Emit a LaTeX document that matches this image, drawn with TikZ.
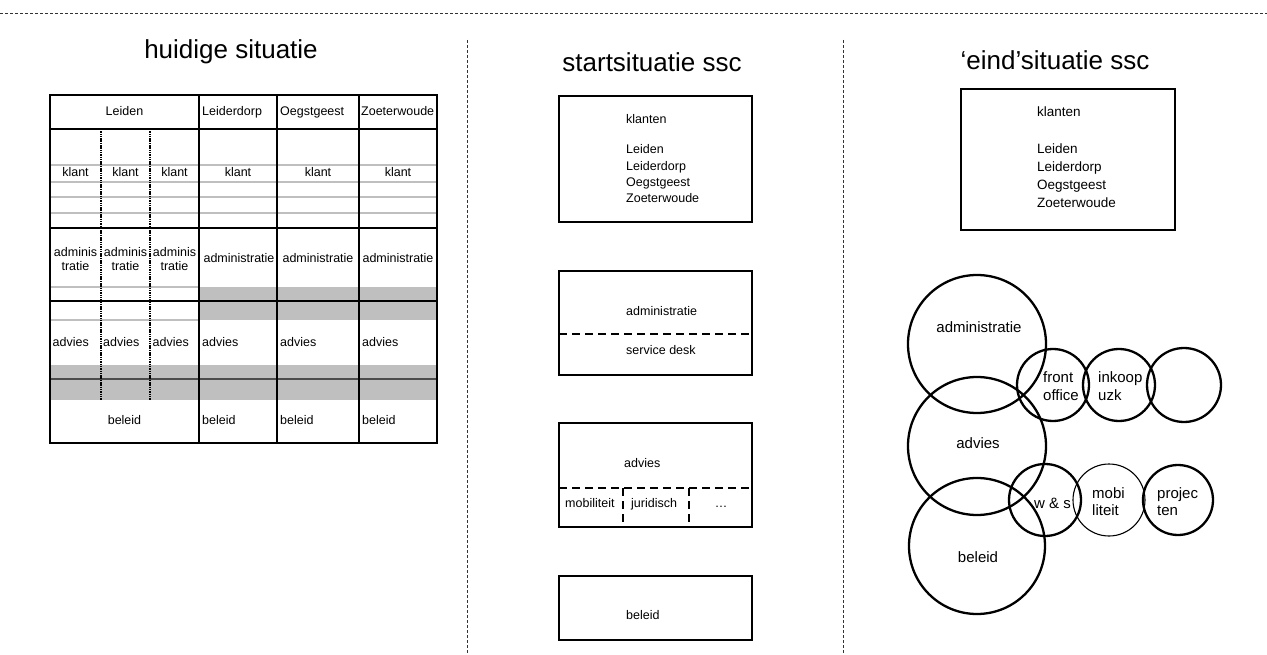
\documentclass[tikz,border=0pt]{standalone}
\usepackage{fontspec}
\setmainfont{Liberation Sans}
\begin{document}
\begin{tikzpicture}[x=1pt,y=-1pt,
  sep/.style={draw=black!80, line width=0.8pt, dash pattern=on 3pt off 2pt},
  boxline/.style={draw, line width=2.5pt},
  bdash/.style={line width=2.5pt, dash pattern=on 8pt off 5pt},
  gridline/.style={draw=black!25, line width=1.5pt},
  thinline/.style={draw=black, line width=1.2pt},
  thickline/.style={draw=black, line width=2.2pt},
  subcol/.style={draw=black, line width=1.2pt, dash pattern=on 1.5pt off 0.8pt},
  ttab/.style={inner sep=0pt, text height=9pt, text depth=0pt, font=\fontsize{12.5}{14}\selectfont},
  tmid/.style={inner sep=0pt, text height=9pt, text depth=0pt, font=\fontsize{12.5}{14}\selectfont, anchor=west},
  tright/.style={inner sep=0pt, text height=9.7pt, text depth=0pt, font=\fontsize{13.5}{16}\selectfont, anchor=west},
  tcirc/.style={inner sep=0pt, text height=10.8pt, text depth=0pt, font=\fontsize{15}{18}\selectfont},
  ttitle/.style={inner sep=0pt, text height=18.5pt, text depth=0pt, font=\fontsize{26}{30}\selectfont},
  circ/.style={circle, draw, line width=2.3pt, inner sep=0pt},
]
\useasboundingbox (0,0) rectangle (1267,655);

% separators
\draw[sep] (0,13) -- (1267,13);
\draw[sep] (467,40) -- (467,655);
\draw[sep] (843,40) -- (843,655);

% titles
\node[ttitle] (t1) at (231,49) {huidige situatie};
\node[ttitle] (t2) at (652,62) {startsituatie ssc};
\node[ttitle] (t3) at (1055,60) {‘eind’situatie ssc};

% ---------- table ----------
\fill[black!25] (199,287) rectangle (437,320);
\fill[black!25] (50,365) rectangle (437,400);
\foreach \yy in {165,182,197,213} \draw[gridline] (50,\yy) -- (437,\yy);
\draw[gridline] (50,287) -- (199,287);
\draw[gridline] (50,320) -- (199,320);
\draw[thinline] (50,129) -- (437,129);
\draw[thinline] (50,228) -- (437,228);
\draw[thinline] (50,301) -- (437,301);
\draw[thinline, draw=black!70] (50,379) -- (437,379);
\draw[subcol] (101,129) -- (101,400);
\draw[subcol] (150,129) -- (150,400);
\foreach \xx in {199,277,359} \draw[thickline] (\xx,95) -- (\xx,443);
\draw[thickline] (50,95) rectangle (437,443);

% header
\node[ttab] (hLeiden) at (124.5,111) {Leiden};
\node[ttab, anchor=west] (hLd) at (202,111) {Leiderdorp};
\node[ttab, anchor=west] (hOg) at (280,111) {Oegstgeest};
\node[ttab, anchor=west] (hZw) at (361,111) {Zoeterwoude};
% klant
\node[ttab] (k1) at (75.5,172) {klant};
\node[ttab] (k2) at (125.5,172) {klant};
\node[ttab] (k3) at (174.5,172) {klant};
\node[ttab] (k4) at (238,172) {klant};
\node[ttab] (k5) at (318,172) {klant};
\node[ttab] (k6) at (398,172) {klant};
% administratie
\node[ttab] (a1a) at (75.5,252) {adminis};
\node[ttab] (a1b) at (75.5,266) {tratie};
\node[ttab] (a2a) at (125.5,252) {adminis};
\node[ttab] (a2b) at (125.5,266) {tratie};
\node[ttab] (a3a) at (174.5,252) {adminis};
\node[ttab] (a3b) at (174.5,266) {tratie};
\node[ttab] (a4) at (239,258) {administratie};
\node[ttab] (a5) at (318,258) {administratie};
\node[ttab] (a6) at (398,258) {administratie};
% advies
\node[ttab, anchor=west] (v1) at (52.5,342) {advies};
\node[ttab, anchor=west] (v2) at (103,342) {advies};
\node[ttab, anchor=west] (v3) at (152.5,342) {advies};
\node[ttab, anchor=west] (v4) at (202,342) {advies};
\node[ttab, anchor=west] (v5) at (280,342) {advies};
\node[ttab, anchor=west] (v6) at (362,342) {advies};
% beleid
\node[ttab] (b1) at (124.5,420) {beleid};
\node[ttab, anchor=west] (b4) at (202,420) {beleid};
\node[ttab, anchor=west] (b5) at (280,420) {beleid};
\node[ttab, anchor=west] (b6) at (362,420) {beleid};

% ---------- middle column ----------
\draw[boxline] (559,96) rectangle (752,222);
\node[tmid] (m1a) at (626,119) {klanten};
\node[tmid] (m1b) at (626,149) {Leiden};
\node[tmid] (m1c) at (626,166) {Leiderdorp};
\node[tmid] (m1d) at (626,182) {Oegstgeest};
\node[tmid] (m1e) at (626,198) {Zoeterwoude};

\draw[boxline] (559,271) rectangle (752,375);
\draw[bdash] (559,334) -- (752,334);
\node[tmid] (m2a) at (626,311) {administratie};
\node[tmid] (m2b) at (626,350) {service desk};

\draw[boxline] (559,423) rectangle (752,527);
\draw[bdash] (559,488) -- (752,488);
\draw[bdash] (623,488) -- (623,527);
\draw[bdash] (689,488) -- (689,527);
\node[tmid] (m3a) at (624,463) {advies};
\node[tmid] (m3b) at (565,503) {mobiliteit};
\node[tmid] (m3c) at (631,503) {juridisch};
\node[ttab] (m3d) at (721,503) {…};

\draw[boxline] (559,576) rectangle (752,640);
\node[tmid] (m4a) at (626,615) {beleid};

% ---------- right column ----------
\draw[boxline] (961,89) rectangle (1175,230);
\node[tright] (r1) at (1037,112) {klanten};
\node[tright] (r2) at (1037,149) {Leiden};
\node[tright] (r3) at (1037,167) {Leiderdorp};
\node[tright] (r4) at (1037,185) {Oegstgeest};
\node[tright] (r5) at (1037,203) {Zoeterwoude};

\node[circ, minimum size=138pt] (cadm) at (977,344) {};
\node[circ, minimum size=138pt] (cadv) at (977,446) {};
\node[circ, minimum size=136pt] (cbel) at (977,546) {};
\node[circ, minimum size=72pt] (cfront) at (1053,385) {};
\node[circ, minimum size=72pt] (cink) at (1119,385) {};
\node[circ, minimum size=74pt] (cempty) at (1184,385) {};
\node[circ, minimum size=72pt] (cws) at (1045,500) {};
\node[circ, minimum size=72pt, line width=1.1pt] (cmob) at (1109,500) {};
\node[circ, minimum size=70pt] (cproj) at (1178,500) {};

\node[tcirc] (ladm) at (979,327) {administratie};
\node[tcirc] (ladv) at (978,443) {advies};
\node[tcirc] (lbel) at (978,557) {beleid};
\node[tcirc, anchor=west] (lfr1) at (1043,377) {front};
\node[tcirc, anchor=west] (lfr2) at (1043,395) {office};
\node[tcirc, anchor=west] (lin1) at (1098,377) {inkoop};
\node[tcirc, anchor=west] (lin2) at (1098,395) {uzk};
\node[tcirc, anchor=west] (lws) at (1034,503) {w \& s};
\node[tcirc, anchor=west] (lmo1) at (1092,493) {mobi};
\node[tcirc, anchor=west] (lmo2) at (1092,510) {liteit};
\node[tcirc, anchor=west] (lpr1) at (1157,493) {projec};
\node[tcirc, anchor=west] (lpr2) at (1157,510) {ten};
\end{tikzpicture}
\end{document}
